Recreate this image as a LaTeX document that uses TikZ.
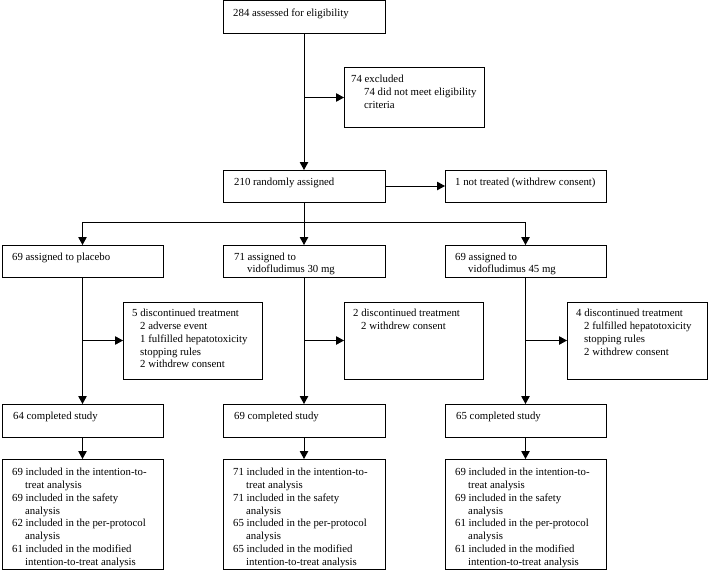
\documentclass[tikz,border=0pt]{standalone}
\usepackage{fontspec}
\setmainfont{Liberation Serif}
\usetikzlibrary{arrows.meta}
\newcommand\myind{\hspace*{13pt}}
\newcommand\mysub{\hspace*{8pt}}
\tikzset{
  box/.style={draw=black, line width=1pt, inner sep=0pt, outer sep=0pt, anchor=north west},
  txt/.style={anchor=north west, inner sep=0pt, align=left, font=\fontsize{10.8}{12.8}\selectfont},
  arr/.style={line width=1pt, -{Triangle[length=8pt,width=8.5pt]}},
  ln/.style={line width=1pt}
}
\begin{document}
\begin{tikzpicture}[x=1pt,y=-1pt]
\useasboundingbox (0,0) rectangle (709,578);
% boxes
\node[box, minimum width=162pt, minimum height=33pt] (A) at (223,1) {};
\node[box, minimum width=140pt, minimum height=59pt] (Ex) at (344,68) {};
\node[box, minimum width=162pt, minimum height=32pt] (R) at (223,170) {};
\node[box, minimum width=161pt, minimum height=32pt] (NT) at (445,170) {};
\node[box, minimum width=161pt, minimum height=32pt] (P) at (2,245) {};
\node[box, minimum width=162pt, minimum height=32pt] (V30) at (223,245) {};
\node[box, minimum width=161pt, minimum height=32pt] (V45) at (445,245) {};
\node[box, minimum width=139pt, minimum height=77pt] (D1) at (123,302) {};
\node[box, minimum width=139pt, minimum height=77pt] (D2) at (344,302) {};
\node[box, minimum width=140pt, minimum height=77pt] (D3) at (567,302) {};
\node[box, minimum width=161pt, minimum height=33pt] (C1) at (2,404) {};
\node[box, minimum width=162pt, minimum height=33pt] (C2) at (223,404) {};
\node[box, minimum width=161pt, minimum height=33pt] (C3) at (445,404) {};
\node[box, minimum width=161pt, minimum height=110pt] (F1) at (2,459) {};
\node[box, minimum width=162pt, minimum height=110pt] (F2) at (223,459) {};
\node[box, minimum width=161pt, minimum height=110pt] (F3) at (445,459) {};
% texts
\node[txt] (tA) at ([shift={(10,8)}]A.north west) {284 assessed for eligibility};
\node[txt] (tEx) at ([shift={(7,7)}]Ex.north west) {74 excluded\\\myind 74 did not meet eligibility\\\myind criteria};
\node[txt] (tR) at ([shift={(11,7.5)}]R.north west) {210 randomly assigned};
\node[txt] (tNT) at ([shift={(10,7.5)}]NT.north west) {1 not treated (withdrew consent)};
\node[txt] (tP) at ([shift={(10,7.5)}]P.north west) {69 assigned to placebo};
\node[txt] (tV30) at ([shift={(11,7.5)}]V30.north west) {71 assigned to\\\myind vidofludimus 30 mg};
\node[txt] (tV45) at ([shift={(10,7.5)}]V45.north west) {69 assigned to\\\myind vidofludimus 45 mg};
\node[txt] (tD1) at ([shift={(9,7)}]D1.north west) {5 discontinued treatment\\\mysub 2 adverse event\\\mysub 1 fulfilled hepatotoxicity\\\mysub stopping rules\\\mysub 2 withdrew consent};
\node[txt] (tD2) at ([shift={(9,7)}]D2.north west) {2 discontinued treatment\\\mysub 2 withdrew consent};
\node[txt] (tD3) at ([shift={(9,7)}]D3.north west) {4 discontinued treatment\\\mysub 2 fulfilled hepatotoxicity\\\mysub stopping rules\\\mysub 2 withdrew consent};
\node[txt] (tC1) at ([shift={(11,8)}]C1.north west) {64 completed study};
\node[txt] (tC2) at ([shift={(11,8)}]C2.north west) {69 completed study};
\node[txt] (tC3) at ([shift={(11,8)}]C3.north west) {65 completed study};
\node[txt] (tF1) at ([shift={(10,9)}]F1.north west) {69 included in the intention-to-\\\myind treat analysis\\69 included in the safety\\\myind analysis\\62 included in the per-protocol\\\myind analysis\\61 included in the modified\\\myind intention-to-treat analysis};
\node[txt] (tF2) at ([shift={(10,9)}]F2.north west) {71 included in the intention-to-\\\myind treat analysis\\71 included in the safety\\\myind analysis\\65 included in the per-protocol\\\myind analysis\\65 included in the modified\\\myind intention-to-treat analysis};
\node[txt] (tF3) at ([shift={(10,9)}]F3.north west) {69 included in the intention-to-\\\myind treat analysis\\69 included in the safety\\\myind analysis\\61 included in the per-protocol\\\myind analysis\\61 included in the modified\\\myind intention-to-treat analysis};
% connectors
\draw[arr] (A.south) -- (R.north);
\draw[arr] (A.south |- Ex.west) -- (Ex.west);
\draw[arr] (R.east) -- (NT.west);
\coordinate (split) at ([yshift=-20pt]R.south);
\draw[arr] (R.south) -- (V30.north);
\draw[ln] (P.north |- split) -- (V45.north |- split);
\draw[arr] (P.north |- split) -- (P.north);
\draw[arr] (V45.north |- split) -- (V45.north);
\draw[arr] (P.south) -- (C1.north);
\draw[arr] (V30.south) -- (C2.north);
\draw[arr] (V45.south) -- (C3.north);
\draw[arr] (P.south |- D1.west) -- (D1.west);
\draw[arr] (V30.south |- D2.west) -- (D2.west);
\draw[arr] (V45.south |- D3.west) -- (D3.west);
\draw[arr] (C1.south) -- (F1.north);
\draw[arr] (C2.south) -- (F2.north);
\draw[arr] (C3.south) -- (F3.north);
\end{tikzpicture}
\end{document}
